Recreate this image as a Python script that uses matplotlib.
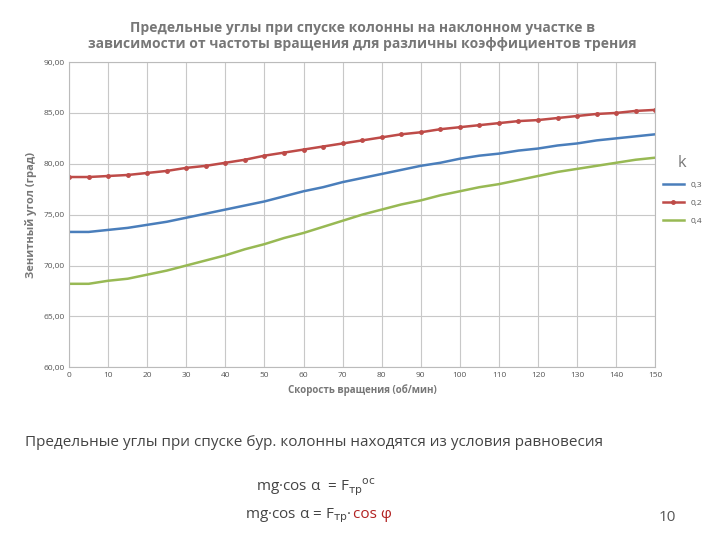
import matplotlib.pyplot as plt

plt.rcParams['font.family'] = ['Open Sans', 'DejaVu Sans']

speed = list(range(0, 155, 5))
k03 = [73.3, 73.3, 73.5, 73.7, 74.0, 74.3, 74.7, 75.1, 75.5, 75.9, 76.3, 76.8, 77.3, 77.7, 78.2, 78.6,
       79.0, 79.4, 79.8, 80.1, 80.5, 80.8, 81.0, 81.3, 81.5, 81.8, 82.0, 82.3, 82.5, 82.7, 82.9]
k02 = [78.7, 78.7, 78.8, 78.9, 79.1, 79.3, 79.6, 79.8, 80.1, 80.4, 80.8, 81.1, 81.4, 81.7, 82.0, 82.3,
       82.6, 82.9, 83.1, 83.4, 83.6, 83.8, 84.0, 84.2, 84.3, 84.5, 84.7, 84.9, 85.0, 85.2, 85.3]
k04 = [68.2, 68.2, 68.5, 68.7, 69.1, 69.5, 70.0, 70.5, 71.0, 71.6, 72.1, 72.7, 73.2, 73.8, 74.4, 75.0,
       75.5, 76.0, 76.4, 76.9, 77.3, 77.7, 78.0, 78.4, 78.8, 79.2, 79.5, 79.8, 80.1, 80.4, 80.6]

fig = plt.figure(figsize=(7.2, 5.4), dpi=100)
ax = fig.add_axes([0.096, 0.32, 0.814, 0.565])

ax.plot(speed, k03, color='#4a7ebb', lw=1.8, label='0,3')
ax.plot(speed, k02, color='#be4b48', lw=1.8, marker='o', markersize=2.5, label='0,2')
ax.plot(speed, k04, color='#98b954', lw=1.8, label='0,4')

ax.set_xlim(0, 150)
ax.set_ylim(60, 90)
ax.set_xticks(range(0, 151, 10))
ax.set_yticks(range(60, 91, 5))
ax.set_yticklabels([f'{v},00' for v in range(60, 91, 5)])
ax.tick_params(labelsize=6, colors='#555555', length=0)
ax.grid(True, color='#c8c8c8', lw=0.8)
for s in ax.spines.values():
    s.set_color('#bbbbbb')

ax.set_xlabel('Скорость вращения (об/мин)', fontsize=7, color='#777777', fontweight='bold')
ax.set_ylabel('Зенитный угол (град)', fontsize=8, color='#777777', fontweight='bold')
ax.set_title('Предельные углы при спуске колонны на наклонном участке в\n'
             'зависимости от частоты вращения для различны коэффициентов трения',
             fontsize=10, color='#777777', fontweight='bold', pad=10)

leg = ax.legend(title='k', loc='upper left', bbox_to_anchor=(1.0, 0.72), frameon=False,
                fontsize=6, handlelength=2.5, labelspacing=1.2)
leg.get_title().set_fontsize(12)
leg.get_title().set_color('#777777')
for t in leg.get_texts():
    t.set_color('#555555')

fig.text(0.035, 0.175, 'Предельные углы при спуске бур. колонны находятся из условия равновесия',
         fontsize=11, color='#444444')
fig.text(0.355, 0.09, r'mg·cos α  = F$_{\mathrm{тр}}$$^{\mathrm{ос}}$', fontsize=11, color='#444444')
fig.text(0.34, 0.04, r'mg·cos α = F$_{\mathrm{тр}}$·', fontsize=11, color='#444444')
fig.text(0.49, 0.04, 'cos φ', fontsize=11, color='#b22222')
fig.text(0.915, 0.035, '10', fontsize=11, color='#555555')

fig.savefig('out.png', dpi=100)
